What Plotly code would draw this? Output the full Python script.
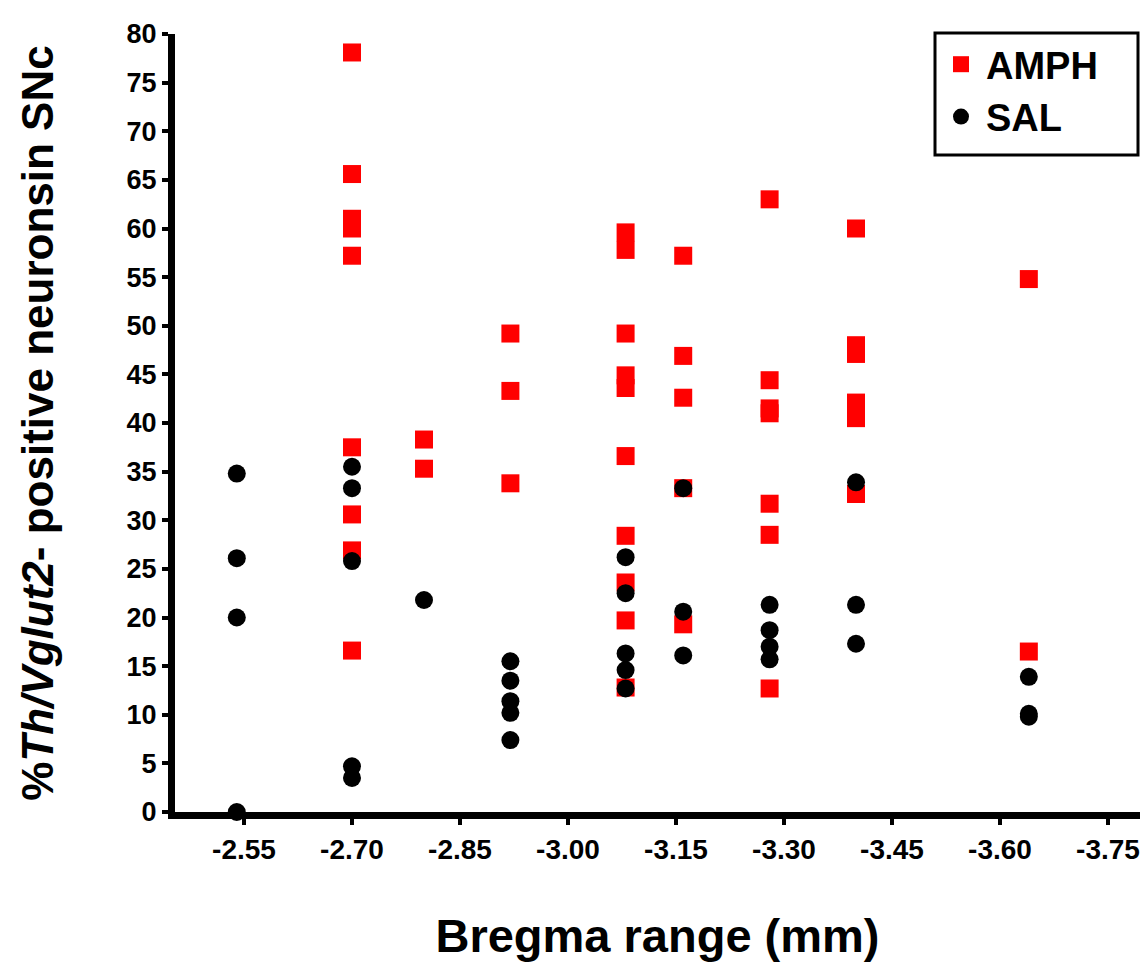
import plotly.graph_objects as go

# Bregma positions (mm) of each section group
amph_x_groups = [-2.70, -2.80, -2.92, -3.08, -3.16, -3.28, -3.40, -3.64]
amph_y_groups = [
    [78.1, 65.6, 61.0, 60.0, 57.2, 37.5, 30.6, 26.9, 16.6],
    [38.3, 35.3],
    [49.2, 43.3, 33.8],
    [59.6, 57.8, 49.2, 44.9, 43.6, 36.6, 28.4, 23.6, 19.7, 12.8],
    [57.2, 46.9, 42.6, 33.3, 19.3],
    [63.0, 44.4, 41.5, 41.0, 31.7, 28.5, 12.7],
    [60.0, 48.0, 47.1, 42.1, 40.5, 32.7],
    [54.8, 16.5],
]

sal_x_groups = [-2.54, -2.70, -2.80, -2.92, -3.08, -3.16, -3.28, -3.40, -3.64]
sal_y_groups = [
    [34.8, 26.1, 20.0, 0.0],
    [35.5, 33.3, 25.8, 4.7, 3.5],
    [21.8],
    [15.5, 13.5, 11.4, 10.2, 7.4],
    [26.2, 22.5, 16.3, 14.6, 12.7],
    [33.3, 20.6, 16.1],
    [21.3, 18.7, 17.0, 15.7],
    [33.9, 21.3, 17.3],
    [13.9, 10.1, 9.8],
]

x_tick_vals = [-2.55, -2.70, -2.85, -3.00, -3.15, -3.30, -3.45, -3.60, -3.75]
x_tick_text = ["-2.55", "-2.70", "-2.85", "-3.00", "-3.15", "-3.30", "-3.45", "-3.60", "-3.75"]
y_tick_vals = list(range(0, 81, 5))

def flatten(xs, ys):
    fx, fy = [], []
    for x, vals in zip(xs, ys):
        for v in vals:
            fx.append(x)
            fy.append(v)
    return fx, fy

ax, ay = flatten(amph_x_groups, amph_y_groups)
sx, sy = flatten(sal_x_groups, sal_y_groups)

FONT = "Liberation Sans, Arial, Helvetica, sans-serif"

fig = go.Figure()
fig.add_trace(go.Scatter(
    x=ax, y=ay, mode="markers", name="AMPH",
    marker=dict(symbol="square", size=18, color="#ff0000", line=dict(width=0)),
    cliponaxis=False,
))
fig.add_trace(go.Scatter(
    x=sx, y=sy, mode="markers", name="SAL",
    marker=dict(symbol="circle", size=18, color="#000000", line=dict(width=0)),
    cliponaxis=False,
))

OFF = 8  # page body offset
W, H = 1148 - 2 * OFF, 971 - 2 * OFF
L, R, T, B = 175 - OFF, 0, 34 - OFF, 151
PW, PH = W - L - R, H - T - B

def px_x(p):
    return (p - OFF - L) / PW

def px_y(p):
    return 1 - (p - OFF - T) / PH

fig.update_layout(
    width=W, height=H,
    margin=dict(l=L, r=R, t=T, b=B, autoexpand=False),
    paper_bgcolor="white", plot_bgcolor="white",
    font=dict(family=FONT, color="black", weight=700),
    showlegend=True,
    legend=dict(
        x=px_x(936), y=px_y(33), xanchor="left", yanchor="top",
        font=dict(family=FONT, size=38, color="black", weight=700),
        bgcolor="rgba(0,0,0,0)", borderwidth=0,
        itemwidth=40, tracegroupgap=0,
    ),
    shapes=[dict(
        type="rect", xref="paper", yref="paper",
        x0=px_x(935), x1=px_x(1138),
        y0=px_y(155), y1=px_y(33),
        line=dict(color="black", width=3), fillcolor="rgba(0,0,0,0)",
    )],
    xaxis=dict(
        range=[-2.4542, -3.7944],
        tickvals=x_tick_vals, ticktext=x_tick_text,
        showline=True, linewidth=7, linecolor="black",
        ticks="outside", ticklen=6, tickwidth=4, tickcolor="black",
        showgrid=False, zeroline=False,
        ticklabeloverflow="allow",
        tickfont=dict(family=FONT, size=28, color="black", weight=700),
        title=dict(text="Bregma range (mm)", standoff=58,
                   font=dict(family=FONT, size=47, color="black", weight=700)),
        automargin=False,
    ),
    yaxis=dict(
        range=[0, 80],
        tickvals=y_tick_vals,
        showline=True, linewidth=7, linecolor="black",
        ticks="outside", ticklen=6, tickwidth=4, tickcolor="black",
        showgrid=False, zeroline=False,
        tickfont=dict(family=FONT, size=27, color="black", weight=700),
        title=dict(text="%<i>Th/Vglut2</i>- positive neuronsin SNc", standoff=62,
                   font=dict(family=FONT, size=44, color="black", weight=700)),
        automargin=False,
    ),
)

fig.write_html("out.html")
